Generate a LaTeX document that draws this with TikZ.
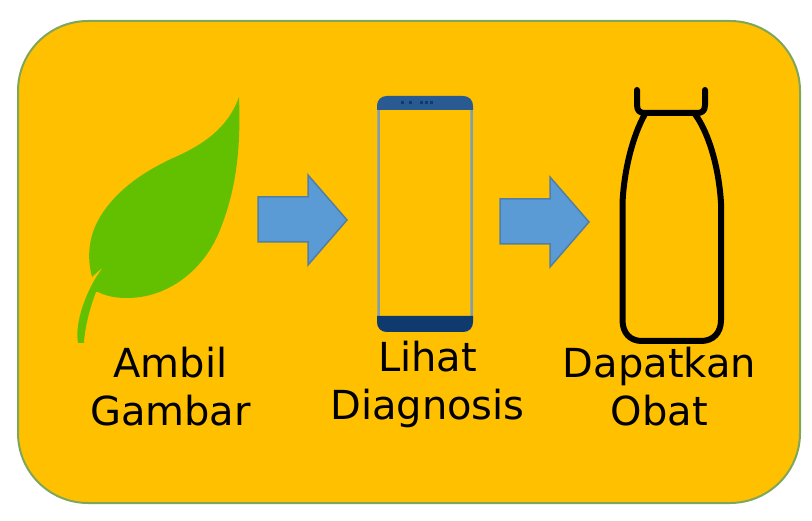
\documentclass[tikz,border=0pt]{standalone}
\usepackage{fontspec}
\setmainfont{DejaVu Sans}
\definecolor{panelfill}{HTML}{FFC000}
\definecolor{panelline}{HTML}{7FA65A}
\definecolor{leafgreen}{HTML}{63C000}
\definecolor{arrowblue}{HTML}{5B9BD5}
\definecolor{arrowline}{HTML}{4F7FA8}
\definecolor{phoneline}{HTML}{7E9FB0}
\definecolor{phonetop}{HTML}{2A5A92}
\definecolor{phonebottom}{HTML}{0F3A6E}
\tikzset{
  steplabel/.style={align=center,text=black,font=\fontsize{40}{48}\selectfont,inner sep=0pt},
  blockarrow/.style={fill=arrowblue,draw=arrowline,line width=1.5pt,line join=miter},
}
\begin{document}
\begin{tikzpicture}[x=1pt,y=-1pt]
    \useasboundingbox (0,0) rectangle (812,521);
    \def\arrowpath{(0,0) -- (50,0) -- (50,-22) -- (89,23) -- (50,68) -- (50,45) -- (0,45) -- cycle}
    % panel
    \draw [fill=panelfill,draw=panelline,line width=2pt,rounded corners=70pt] (18,21) rectangle (800,503);
    % leaf
    \fill [leafgreen] (239,97) .. controls (241,150) and (236,190) .. (220,230)
        .. controls (205,268) and (170,298) .. (127,298)
        .. controls (115,298) and (106,296) .. (98,292) -- (96,292)
        .. controls (91,305) and (85,325) .. (84,343) -- (78,343)
        .. controls (75,325) and (83,300) .. (95,279) -- (103,267) -- (92,277)
        .. controls (87,258) and (88,237) .. (100,217)
        .. controls (117,189) and (145,171) .. (173,158)
        .. controls (203,145) and (228,128) .. (239,97) -- cycle;
    % arrows
    \draw [blockarrow,shift={(258,197)}] \arrowpath;
    \draw [blockarrow,shift={(500,199)}] \arrowpath;
    % phone
    \draw [phoneline,line width=2.5pt,rounded corners=8pt] (378.5,97.5) rectangle (471.5,330.5);
    \fill [phonetop] (377,110) -- (377,106) .. controls (377,100) and (381,96) .. (387,96) -- (463,96)
        .. controls (469,96) and (473,100) .. (473,106) -- (473,110) -- cycle;
    \fill [phonebottom] (377,316) -- (377,322) .. controls (377,328) and (381,332) .. (387,332) -- (463,332)
        .. controls (469,332) and (473,328) .. (473,322) -- (473,316) -- cycle;
    \foreach \dotx in {401,409,420,425,430}
        \fill [phonebottom] (\dotx,101) rectangle ++(3,3);
    % bottle
    \draw [line width=6pt,line cap=round,line join=round] (637,90) -- (637,105) .. controls (637,111) and (640,113) .. (645,113)
        -- (697,113) .. controls (702,113) and (705,111) .. (705,105) -- (705,90);
    \draw [line width=6pt,line join=round] (645,114) .. controls (633,135) and (624,170) .. (622.5,203)
        -- (622.5,320) .. controls (622.5,333) and (630,341) .. (642,341) -- (701,341)
        .. controls (713,341) and (721,333) .. (721,320) -- (721,203)
        .. controls (719,170) and (710,135) .. (695,114);
    % labels
    \node [steplabel] (ambil) at (170.5,387) {Ambil\\Gambar};
    \node [steplabel] (lihat) at (427.5,384) {Lihat\\Diagnosis};
    \node [steplabel] (dapatkan) at (659.5,387) {Dapatkan\\Obat};
\end{tikzpicture}
\end{document}
